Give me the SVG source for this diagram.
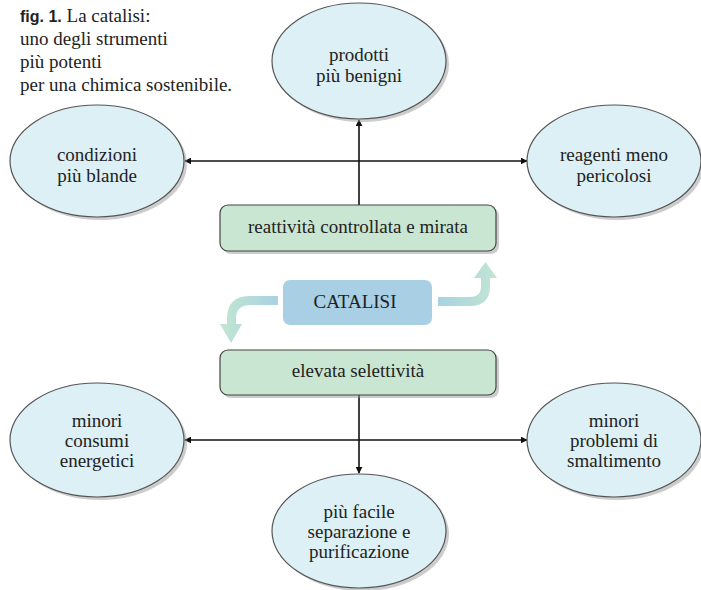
<svg xmlns="http://www.w3.org/2000/svg" width="701" height="590" viewBox="0 0 701 590" font-family="Liberation Serif, Times New Roman, Times, DejaVu Serif, serif">
<defs>
<style>
text{font-family:"Liberation Serif","Times New Roman",Times,"DejaVu Serif",serif;font-size:19px;fill:#222}
.t{text-anchor:middle}
.fig{font-family:"Liberation Sans",Arial,sans-serif;font-weight:bold;font-size:16px}
.e{fill:#dcf0f6;stroke:#555;stroke-width:1.2}
.sh{fill:#999;opacity:0.5}
.g{fill:#c8e6d1;stroke:#444;stroke-width:1.2}
.c{fill:none;stroke:#111;stroke-width:1.6}
</style>
<marker id="ah" viewBox="0 0 10 10" refX="9" refY="5" markerWidth="7" markerHeight="7" orient="auto-start-reverse" markerUnits="userSpaceOnUse">
<path d="M0,0 L10,5 L0,10 z" fill="#111"/>
</marker>
<linearGradient id="gr" x1="0" y1="0" x2="1" y2="0">
<stop offset="0" stop-color="#a9d2e3"/>
<stop offset="1" stop-color="#c2e5d1"/>
</linearGradient>
<linearGradient id="gl" x1="1" y1="0" x2="0" y2="0">
<stop offset="0" stop-color="#a9d2e3"/>
<stop offset="1" stop-color="#c2e5d1"/>
</linearGradient>
</defs>
<rect width="701" height="590" fill="#fff"/>
<g id="title">
<text x="20" y="22"><tspan class="fig">fig. 1.</tspan> La catalisi:</text>
<text x="20" y="45">uno degli strumenti</text>
<text x="20" y="68">più potenti</text>
<text x="20" y="91">per una chimica sostenibile.</text>
</g>
<g id="connectors">
<line class="c" x1="359" y1="205" x2="359" y2="120" marker-end="url(#ah)"/>
<line class="c" x1="185" y1="161" x2="527" y2="161" marker-start="url(#ah)" marker-end="url(#ah)"/>
<line class="c" x1="359" y1="395" x2="359" y2="473" marker-end="url(#ah)"/>
<line class="c" x1="185" y1="440" x2="527" y2="440" marker-start="url(#ah)" marker-end="url(#ah)"/>
<path d="M438,306 H470 Q490,306 490,286 V278 H497 L485.5,262 L474,278 H481 V286 Q481,297 470,297 H438 z" fill="url(#gr)"/>
<path d="M278,296 H250 Q227,296 227,319 V324 H220 L231,343 L242,324 H236 V319 Q236,305 250,305 H278 z" fill="url(#gl)"/>
</g>
<g id="n-prodotti">
<ellipse class="sh" cx="362" cy="64" rx="87" ry="58"/>
<ellipse class="e" cx="359" cy="61" rx="87" ry="58"/>
<text class="t" x="359" y="61">prodotti</text>
<text class="t" x="359" y="82">più benigni</text>
</g>
<g id="n-condizioni">
<ellipse class="sh" cx="100" cy="164" rx="87" ry="56"/>
<ellipse class="e" cx="97" cy="161" rx="87" ry="56"/>
<text class="t" x="97" y="161">condizioni</text>
<text class="t" x="97" y="182">più blande</text>
</g>
<g id="n-reagenti">
<ellipse class="sh" cx="617" cy="164" rx="87" ry="56"/>
<ellipse class="e" cx="614" cy="161" rx="87" ry="56"/>
<text class="t" x="614" y="161">reagenti meno</text>
<text class="t" x="614" y="182">pericolosi</text>
</g>
<g id="n-reattivita">
<rect class="sh" x="223" y="208" width="276" height="46" rx="8"/>
<rect class="g" x="220" y="205" width="276" height="46" rx="8"/>
<text class="t" x="358" y="233">reattività controllata e mirata</text>
</g>
<g id="n-catalisi">
<rect x="283" y="280" width="149" height="45" rx="7" fill="#a8cfe4"/>
<text class="t" x="355" y="308">CATALISI</text>
</g>
<g id="n-selettivita">
<rect class="sh" x="223" y="353" width="276" height="45" rx="8"/>
<rect class="g" x="220" y="350" width="276" height="45" rx="8"/>
<text class="t" x="358" y="377">elevata selettività</text>
</g>
<g id="n-consumi">
<ellipse class="sh" cx="100" cy="443" rx="87" ry="57"/>
<ellipse class="e" cx="97" cy="440" rx="87" ry="57"/>
<text class="t" x="97" y="427">minori</text>
<text class="t" x="97" y="447">consumi</text>
<text class="t" x="97" y="467">energetici</text>
</g>
<g id="n-smaltimento">
<ellipse class="sh" cx="617" cy="443" rx="87" ry="57"/>
<ellipse class="e" cx="614" cy="440" rx="87" ry="57"/>
<text class="t" x="614" y="427">minori</text>
<text class="t" x="614" y="447">problemi di</text>
<text class="t" x="614" y="467">smaltimento</text>
</g>
<g id="n-separazione">
<ellipse class="sh" cx="362" cy="534" rx="87" ry="57"/>
<ellipse class="e" cx="359" cy="531" rx="87" ry="57"/>
<text class="t" x="359" y="518">più facile</text>
<text class="t" x="359" y="538">separazione e</text>
<text class="t" x="359" y="558">purificazione</text>
</g>
</svg>
